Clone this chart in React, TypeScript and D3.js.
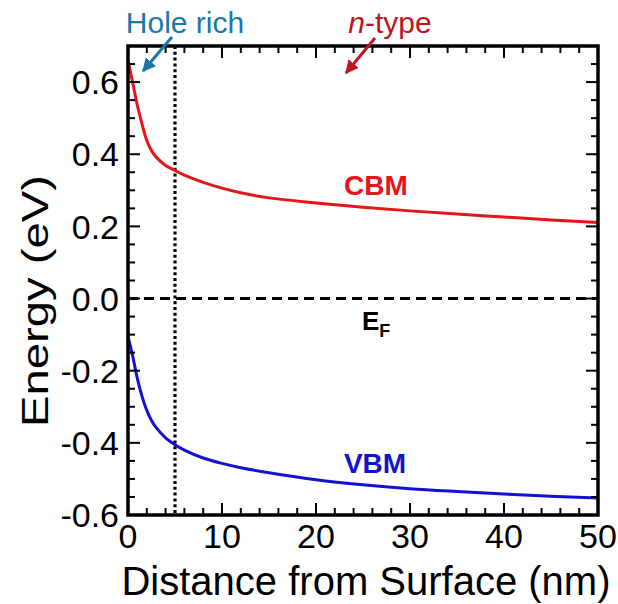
import React from "react";
import * as d3 from "d3";

const distance = [0, 0.5, 1, 1.5, 2, 2.5, 3, 4, 5, 6, 8, 10, 12, 15, 20, 25, 30, 35, 40, 45, 50];
const cbm = [0.66, 0.598, 0.535, 0.483, 0.438, 0.41, 0.392, 0.369, 0.355, 0.342, 0.322, 0.306, 0.293, 0.279, 0.265, 0.253, 0.243, 0.234, 0.226, 0.218, 0.211];
const vbm = [-0.105, -0.16, -0.222, -0.272, -0.31, -0.338, -0.358, -0.386, -0.405, -0.42, -0.442, -0.457, -0.469, -0.483, -0.502, -0.516, -0.527, -0.535, -0.542, -0.548, -0.553];
const xTickLabels = [0, 10, 20, 30, 40, 50];
const yTickLabels = [-0.6, -0.4, -0.2, 0.0, 0.2, 0.4, 0.6];
const fermiLevel = 0;
const holeRichDepth = 5;

const W = 618, H = 604;
const L = 128, R = 598, T = 46, B = 515;
const FONT = "'Liberation Sans', Arial, Helvetica, sans-serif";

export default function App() {
  const x = d3.scaleLinear().domain([0, 50]).range([L, R]);
  const y = d3.scaleLinear().domain([-0.6, 0.7]).range([B, T]);
  const line = (vals: number[]) =>
    d3.line<number>().x((_, i) => x(distance[i])).y((d) => y(d)).curve(d3.curveCatmullRom.alpha(0.5))(vals) || "";

  const xMinor = d3.range(0, 50.001, 2).filter((v) => v % 10 !== 0);
  const yMinor = d3.range(-12, 15).map((k) => k * 0.05).filter((v) => Math.abs(Math.round(v * 100) % 20) !== 0 && v > -0.6 && v < 0.7);
  const yMajor = yTickLabels;
  const MAJ = 12, MIN = 7;
  const red = "#e6141b";
  const blue = "#1212d2";
  const annBlue = "#1a78a8";
  const annRed = "#c0141e";

  return (
    <svg width={W} height={H} style={{ position: "absolute", left: 0, top: 0, background: "#fff" }} fontFamily={FONT}>
      <defs>
        <marker id="ab" viewBox="0 0 10 10" refX="9" refY="5" markerWidth="4.5" markerHeight="4.5" orient="auto">
          <path d="M0,0 L10,5 L0,10 z" fill={annBlue} />
        </marker>
        <marker id="ar" viewBox="0 0 10 10" refX="9" refY="5" markerWidth="4.5" markerHeight="4.5" orient="auto">
          <path d="M0,0 L10,5 L0,10 z" fill={annRed} />
        </marker>
      </defs>
      {/* reference lines */}
      <line x1={L} x2={R} y1={y(fermiLevel)} y2={y(fermiLevel)} stroke="#000" strokeWidth={3} strokeDasharray="10,6" />
      <line x1={x(holeRichDepth)} x2={x(holeRichDepth)} y1={T} y2={B} stroke="#000" strokeWidth={3.2} strokeDasharray="3,2.8" />
      {/* curves */}
      <path d={line(cbm)} fill="none" stroke={red} strokeWidth={3} />
      <path d={line(vbm)} fill="none" stroke={blue} strokeWidth={3} />
      {/* ticks */}
      {xTickLabels.map((v) => (
        <g key={"xm" + v}>
          <line x1={x(v)} x2={x(v)} y1={B} y2={B - MAJ} stroke="#000" strokeWidth={2} />
          <line x1={x(v)} x2={x(v)} y1={T} y2={T + MAJ} stroke="#000" strokeWidth={2} />
          <text x={x(v)} y={548} textAnchor="middle" fontSize={34}>{v}</text>
        </g>
      ))}
      {xMinor.map((v) => (
        <g key={"xn" + v}>
          <line x1={x(v)} x2={x(v)} y1={B} y2={B - MIN} stroke="#000" strokeWidth={2} />
          <line x1={x(v)} x2={x(v)} y1={T} y2={T + MIN} stroke="#000" strokeWidth={2} />
        </g>
      ))}
      {yMajor.map((v) => (
        <g key={"ym" + v}>
          <line x1={L} x2={L + MAJ} y1={y(v)} y2={y(v)} stroke="#000" strokeWidth={2} />
          <line x1={R} x2={R - MAJ} y1={y(v)} y2={y(v)} stroke="#000" strokeWidth={2} />
          <text x={119} y={y(v)} dy="0.36em" textAnchor="end" fontSize={34}>{v.toFixed(1)}</text>
        </g>
      ))}
      {yMinor.map((v) => (
        <g key={"yn" + v}>
          <line x1={L} x2={L + MIN} y1={y(v)} y2={y(v)} stroke="#000" strokeWidth={2} />
          <line x1={R} x2={R - MIN} y1={y(v)} y2={y(v)} stroke="#000" strokeWidth={2} />
        </g>
      ))}
      {/* frame */}
      <rect x={L} y={T} width={R - L} height={B - T} fill="none" stroke="#000" strokeWidth={3.5} />
      {/* axis titles */}
      <text x={366} y={595} textAnchor="middle" fontSize={40}>Distance from Surface (nm)</text>
      <text transform={`translate(48,301) rotate(-90)`} textAnchor="middle" fontSize={37} textLength={252} lengthAdjust="spacingAndGlyphs">Energy (eV)</text>
      {/* labels */}
      <text x={376} y={195} textAnchor="middle" fontSize={28} fontWeight="bold" fill={red}>CBM</text>
      <text x={375} y={473} textAnchor="middle" fontSize={28} fontWeight="bold" fill={blue}>VBM</text>
      <text x={362} y={330} fontSize={26} fontWeight="bold" fill="#000">E<tspan fontSize={18} dy={7}>F</tspan></text>
      {/* annotations */}
      <text x={185} y={33} textAnchor="middle" fontSize={30} fill={annBlue}>Hole rich</text>
      <line x1={172} y1={37} x2={143} y2={71} stroke={annBlue} strokeWidth={3} markerEnd="url(#ab)" />
      <text x={390} y={33} textAnchor="middle" fontSize={30} fill={annRed}><tspan fontStyle="italic">n</tspan>-type</text>
      <line x1={375} y1={38} x2={346} y2={73} stroke={annRed} strokeWidth={3} markerEnd="url(#ar)" />
    </svg>
  );
}
